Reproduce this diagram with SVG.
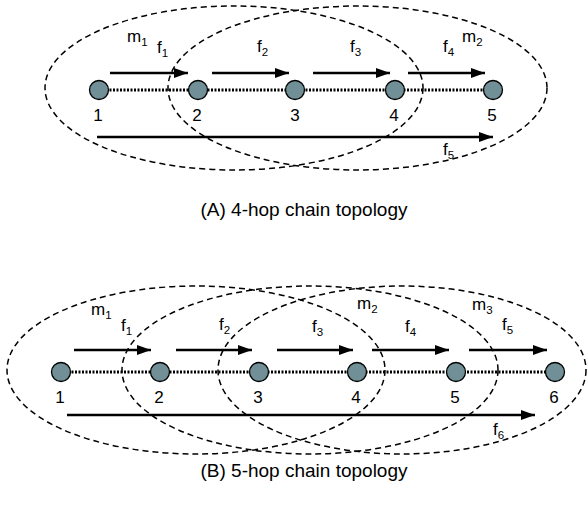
<svg xmlns="http://www.w3.org/2000/svg" width="588" height="508" viewBox="0 0 588 508">
<defs>
<marker id="ah" viewBox="0 0 14 10" refX="14" refY="5" markerWidth="14" markerHeight="10" markerUnits="userSpaceOnUse" orient="auto">
<path d="M0,0 L14,5 L0,10 Z" fill="#000"/>
</marker>
</defs>
<style>
.range{fill:none;stroke:#000;stroke-width:1.5;stroke-dasharray:6 4}
.link{stroke:#000;stroke-width:3;stroke-dasharray:2 1.5}
.flow{stroke:#000;stroke-width:2.6;marker-end:url(#ah)}
.node circle{fill:#708f96;stroke:#000;stroke-width:1.3}
text{font-family:"Liberation Sans",Arial,sans-serif;fill:#000}
.lbl{font-size:17px}
.num{font-size:17px;text-anchor:middle}
.sub{font-size:11.5px}
.cap{font-size:19px;text-anchor:middle}
</style>
<rect width="588" height="508" fill="#fff"/>

<!-- Diagram A -->
<g id="connectorsA">
<line class="link" x1="99" y1="90" x2="493" y2="90"/>
<line class="flow" x1="110" y1="73" x2="188" y2="73"/>
<line class="flow" x1="212" y1="73" x2="289" y2="73"/>
<line class="flow" x1="313" y1="73" x2="390" y2="73"/>
<line class="flow" x1="408" y1="73" x2="485" y2="73"/>
<line class="flow" x1="97" y1="137" x2="493" y2="137"/>
</g>
<g id="rangesA">
<ellipse class="range" cx="234" cy="88" rx="189" ry="82"/>
<ellipse class="range" cx="357.5" cy="88" rx="189.5" ry="82"/>
</g>
<g id="A-n1" class="node"><circle cx="99" cy="90" r="9.5"/><text class="num" x="98" y="121">1</text></g>
<g id="A-n2" class="node"><circle cx="198" cy="90" r="9.5"/><text class="num" x="197" y="121">2</text></g>
<g id="A-n3" class="node"><circle cx="295" cy="90" r="9.5"/><text class="num" x="295" y="121">3</text></g>
<g id="A-n4" class="node"><circle cx="395" cy="90" r="9.5"/><text class="num" x="394" y="121">4</text></g>
<g id="A-n5" class="node"><circle cx="493" cy="90" r="9.5"/><text class="num" x="492" y="121">5</text></g>
<g id="labelsA">
<text class="lbl" x="127" y="42">m<tspan class="sub" dy="4">1</tspan></text>
<text class="lbl" x="157" y="53">f<tspan class="sub" dy="4">1</tspan></text>
<text class="lbl" x="257" y="52">f<tspan class="sub" dy="4">2</tspan></text>
<text class="lbl" x="350" y="52">f<tspan class="sub" dy="4">3</tspan></text>
<text class="lbl" x="443" y="52">f<tspan class="sub" dy="4">4</tspan></text>
<text class="lbl" x="462" y="42">m<tspan class="sub" dy="4">2</tspan></text>
<text class="lbl" x="443" y="155">f<tspan class="sub" dy="4">5</tspan></text>
</g>
<text class="cap" x="304" y="216">(A) 4-hop chain topology</text>

<!-- Diagram B -->
<g id="connectorsB">
<line class="link" x1="61" y1="372" x2="555" y2="372"/>
<line class="flow" x1="74" y1="350" x2="151" y2="350"/>
<line class="flow" x1="176" y1="350" x2="252" y2="350"/>
<line class="flow" x1="277" y1="350" x2="353" y2="350"/>
<line class="flow" x1="372" y1="350" x2="449" y2="350"/>
<line class="flow" x1="469" y1="350" x2="547" y2="350"/>
<line class="flow" x1="67" y1="415" x2="535" y2="415"/>
</g>
<g id="rangesB">
<ellipse class="range" cx="196" cy="370" rx="189" ry="84"/>
<ellipse class="range" cx="310" cy="370" rx="188" ry="84"/>
<ellipse class="range" cx="402" cy="370" rx="184" ry="84"/>
</g>
<g id="B-n1" class="node"><circle cx="61" cy="372" r="9.5"/><text class="num" x="60" y="403">1</text></g>
<g id="B-n2" class="node"><circle cx="160" cy="372" r="9.5"/><text class="num" x="159" y="403">2</text></g>
<g id="B-n3" class="node"><circle cx="259" cy="372" r="9.5"/><text class="num" x="258" y="403">3</text></g>
<g id="B-n4" class="node"><circle cx="357" cy="372" r="9.5"/><text class="num" x="356" y="403">4</text></g>
<g id="B-n5" class="node"><circle cx="456" cy="372" r="9.5"/><text class="num" x="455" y="403">5</text></g>
<g id="B-n6" class="node"><circle cx="555" cy="372" r="9.5"/><text class="num" x="554" y="403">6</text></g>
<g id="labelsB">
<text class="lbl" x="91" y="315">m<tspan class="sub" dy="4">1</tspan></text>
<text class="lbl" x="121" y="331">f<tspan class="sub" dy="4">1</tspan></text>
<text class="lbl" x="219" y="330">f<tspan class="sub" dy="4">2</tspan></text>
<text class="lbl" x="312" y="332">f<tspan class="sub" dy="4">3</tspan></text>
<text class="lbl" x="405" y="332">f<tspan class="sub" dy="4">4</tspan></text>
<text class="lbl" x="502" y="330">f<tspan class="sub" dy="4">5</tspan></text>
<text class="lbl" x="357" y="309">m<tspan class="sub" dy="4">2</tspan></text>
<text class="lbl" x="472" y="310">m<tspan class="sub" dy="4">3</tspan></text>
<text class="lbl" x="493" y="435">f<tspan class="sub" dy="4">6</tspan></text>
</g>
<text class="cap" x="304" y="477">(B) 5-hop chain topology</text>
</svg>
